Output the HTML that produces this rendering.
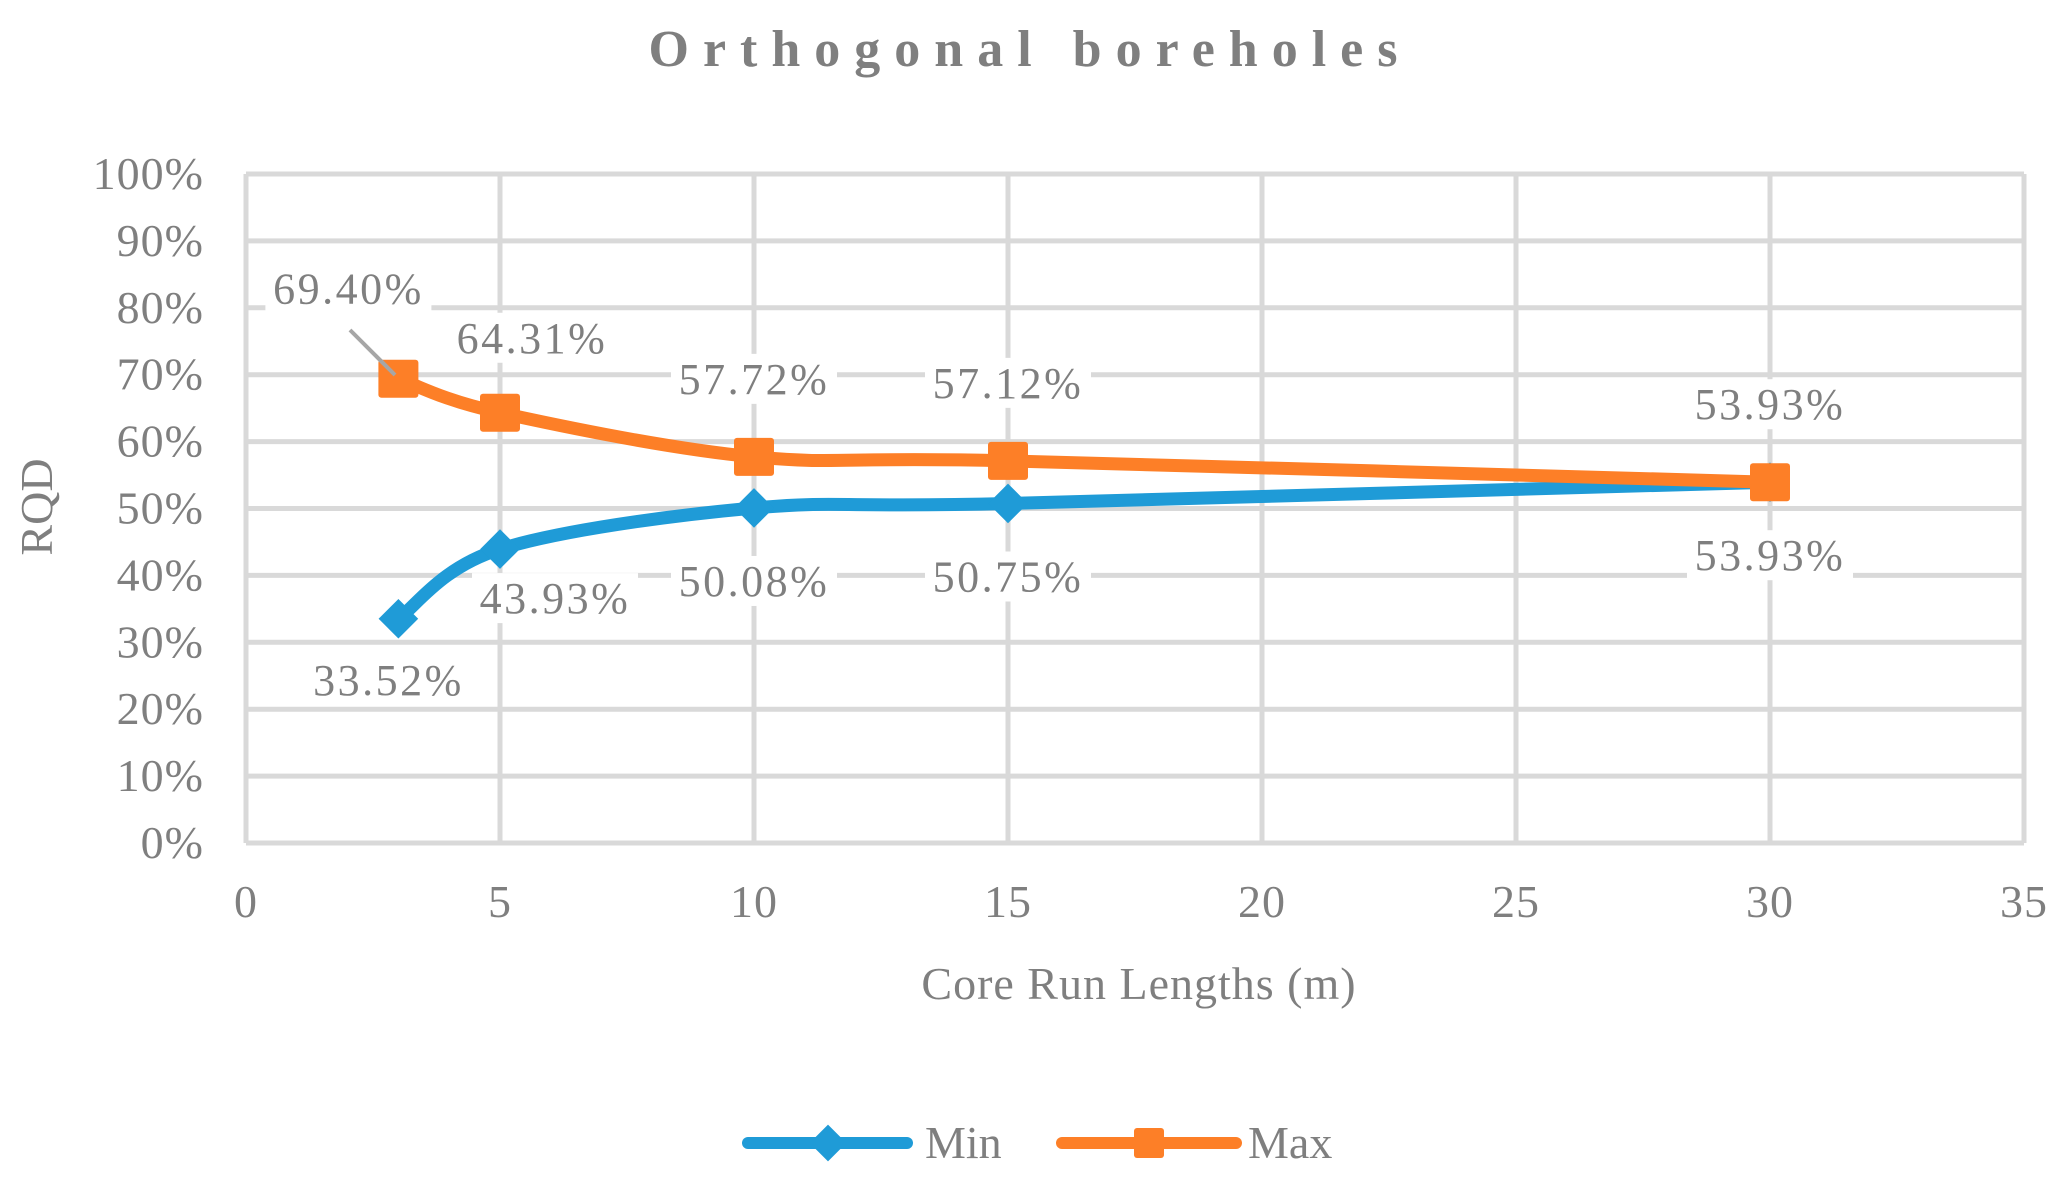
<!DOCTYPE html>
<html><head><meta charset="utf-8"><style>
body{margin:0;background:#fff;}
svg text{font-family:"Liberation Serif",serif;fill:#7f7f7f;}
</style></head><body>
<svg width="2055" height="1192" viewBox="0 0 2055 1192" xmlns="http://www.w3.org/2000/svg">
<text x="1030" y="66" text-anchor="middle" font-size="52" font-weight="bold" letter-spacing="14">Orthogonal boreholes</text>
<g id="grid"></g>
<g id="yticks"></g>
<g id="xticks"></g>
<text x="1139" y="999" text-anchor="middle" font-size="46" letter-spacing="1">Core Run Lengths (m)</text>
<text transform="translate(52,507) rotate(-90)" text-anchor="middle" font-size="46">RQD</text>
<g id="series"></g>
<g id="labels"></g>
<g>
<g>
<line x1="748" y1="1143" x2="907" y2="1143" stroke="#1f9bd7" stroke-width="12" stroke-linecap="round"/>
<rect x="815" y="1130" width="26" height="26" fill="#1f9bd7" transform="rotate(45 828 1143)"/>
<text x="925" y="1158" font-size="46">Min</text>
</g>
<g>
<line x1="1062" y1="1143" x2="1236" y2="1143" stroke="#fd7f27" stroke-width="12" stroke-linecap="round"/>
<rect x="1134" y="1128" width="30" height="30" rx="3" fill="#fd7f27"/>
<text x="1248" y="1158" font-size="46">Max</text>
</g>
</g>
</svg>
<script>
const categories=[3,5,10,15,30];
const minValues=[33.52,43.93,50.08,50.75,53.93];
const maxValues=[69.40,64.31,57.72,57.12,53.93];
const xTicks=[0,5,10,15,20,25,30,35];
const yTicks=[0,10,20,30,40,50,60,70,80,90,100];
const NS='http://www.w3.org/2000/svg';
const X0=246,X1=2024,Y0=843,Y1=174;
const xs=v=>X0+(v-0)/35*(X1-X0);
const ys=v=>Y0-(v/100)*(Y0-Y1);
function mk(tag,attrs,parent){const e=document.createElementNS(NS,tag);for(const k in attrs)e.setAttribute(k,attrs[k]);parent.appendChild(e);return e;}
const grid=document.getElementById('grid');
yTicks.forEach(t=>{const l=mk('line',{x1:X0,x2:X1,y1:ys(t),y2:ys(t),stroke:'#d9d9d9','stroke-width':5},grid);


const tx=mk('text',{x:204,y:ys(t)+15,'text-anchor':'end','font-size':46,'letter-spacing':1},document.getElementById('yticks'));tx.textContent=t+'%';

});
xTicks.forEach(t=>{const l=mk('line',{x1:xs(t),x2:xs(t),y1:Y1,y2:Y0,stroke:'#d9d9d9','stroke-width':5},grid);


const tx=mk('text',{x:xs(t),y:917,'text-anchor':'middle','font-size':46,'letter-spacing':1},document.getElementById('xticks'));tx.textContent=t;

});
function smooth(pts){let d='M'+pts[0][0]+','+pts[0][1];const t=1/6;
for(let i=0;i<pts.length-1;i++){const p0=pts[Math.max(0,i-1)],p1=pts[i],p2=pts[i+1],p3=pts[Math.min(pts.length-1,i+2)];
d+=' C'+(p1[0]+(p2[0]-p0[0])*t)+','+(p1[1]+(p2[1]-p0[1])*t)+' '+(p2[0]-(p3[0]-p1[0])*t)+','+(p2[1]-(p3[1]-p1[1])*t)+' '+p2[0]+','+p2[1];}
return d;}
const sg=document.getElementById('series'),lg=document.getElementById('labels');
function series(vals,color,name,marker){
const pts=categories.map((c,i)=>[xs(c),ys(vals[i])]);
const p=mk('path',{d:smooth(pts),fill:'none',stroke:color,'stroke-width':13,'stroke-linejoin':'round'},sg);


pts.forEach(([x,y])=>{let m;
if(marker==='diamond'){m=mk('rect',{x:x-14,y:y-14,width:28,height:28,fill:color,transform:'rotate(45 '+x+' '+y+')'},sg);}
else{m=mk('rect',{x:x-20,y:y-19,width:40,height:38,rx:3,fill:color},sg);}

});
return pts;}
const minPts=series(minValues,'#1f9bd7','min','diamond');
const maxPts=series(maxValues,'#fd7f27','max','square');
function label(x,y,txt){const w=154;
const r=mk('rect',{x:x-w/2-6,y:y-40,width:w+12,height:50,fill:'#fff'},lg);


const t=mk('text',{x:x,y:y,'text-anchor':'middle','font-size':44,'letter-spacing':2.5},lg);t.textContent=txt;

}
const ll=mk('line',{x1:350,y1:330,x2:395,y2:375,stroke:'#a6a6a6','stroke-width':4},lg);


maxPts.forEach(([x,y],i)=>{const dx=i===0?-50:(i===1?32:0),dy=i===0?-75:(i===1?-60:-63);label(x+dx,y+dy,maxValues[i].toFixed(2)+'%');});
minPts.forEach(([x,y],i)=>{const dx=i===1?55:(i===0?-10:0),dy=i===0?+76:(i===1?+64:+88);label(x+dx,y+dy,minValues[i].toFixed(2)+'%');});
</script>
</body></html>
